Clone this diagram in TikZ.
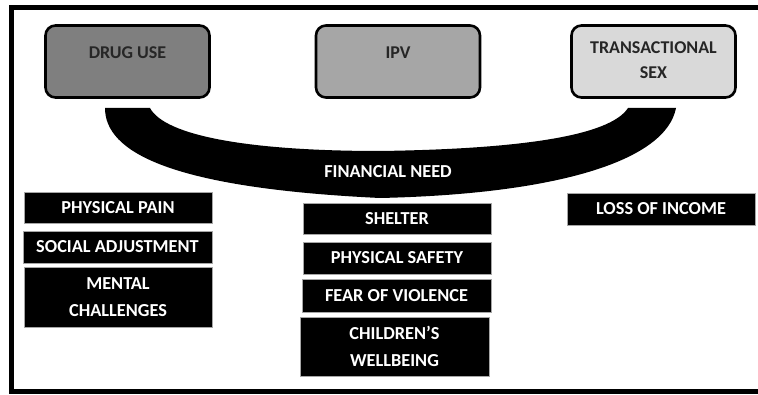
\documentclass[tikz,border=0pt]{standalone}
\usepackage{fontspec}
\setmainfont{Carlito}
\definecolor{drugfill}{HTML}{7F7F7F}
\definecolor{ipvfill}{HTML}{A6A6A6}
\definecolor{transfill}{HTML}{D9D9D9}
\begin{document}
\begin{tikzpicture}[x=1pt,y=-1pt,
  topbox/.style={draw=black,line width=2.6pt,rounded corners=10pt,minimum width=164pt,minimum height=72pt,inner sep=0pt},
  toptext/.style={font=\fontsize{18}{25}\selectfont\bfseries,text=black!85,align=center,inner sep=0pt},
  blackbox/.style={fill=black,draw=gray!70,line width=0.6pt,minimum width=188pt,inner sep=0pt,
    font=\fontsize{18.3}{27}\selectfont\bfseries,text=white,align=center},
  bandtext/.style={font=\fontsize{18.3}{21}\selectfont\bfseries,text=white,inner sep=0pt}]
\clip (0,0) rectangle (758,395);
\fill[white] (0,0) rectangle (758,395);
% frame (right side lies beyond the picture)
\draw[line width=5pt] (770,8) -- (11,8) -- (11,391) -- (770,391);
% top boxes
\node[topbox,fill=drugfill] (drug) at (127.5,61.5) {};
\node[toptext] (drugT) at (127.5,52.5) {DRUG USE};
\node[topbox,fill=ipvfill] (ipv) at (398,61.5) {};
\node[toptext] (ipvT) at (398,52.5) {IPV};
\node[topbox,fill=transfill] (trans) at (653.5,61.5) {};
\node[toptext] (transT) at (653.5,60.5) {TRANSACTIONAL\\SEX};
% financial need band
\fill[black] (105,108) .. controls (105,152) and (170,188) .. (380,198)
  .. controls (560,194) and (666,160) .. (676,108)
  -- (628,108) .. controls (610,136) and (520,149) .. (380,151)
  .. controls (250,151) and (165,136) .. (150,108) -- cycle;
\node[bandtext] (need) at (388,172) {FINANCIAL NEED};
% drug use items
\node[blackbox,minimum height=31pt] (pain) at (118,207.5) {PHYSICAL PAIN};
\node[blackbox,minimum width=189pt,minimum height=32pt] (social) at (117.5,247) {SOCIAL ADJUSTMENT};
\node[blackbox,minimum height=60pt] (mental) at (118,297) {MENTAL\\CHALLENGES};
% ipv items
\node[blackbox,minimum height=31pt] (shelter) at (397,218.5) {SHELTER};
\node[blackbox,minimum height=32pt] (safety) at (397,258) {PHYSICAL SAFETY};
\node[blackbox,minimum width=189pt,minimum height=33pt] (fear) at (396.5,295.5) {FEAR OF VIOLENCE};
\node[blackbox,minimum width=189pt,minimum height=59pt] (children) at (394.5,346.5) {CHILDREN’S\\WELLBEING};
% transactional sex items
\node[blackbox,minimum height=32pt] (loss) at (661,209) {LOSS OF INCOME};
\end{tikzpicture}
\end{document}
